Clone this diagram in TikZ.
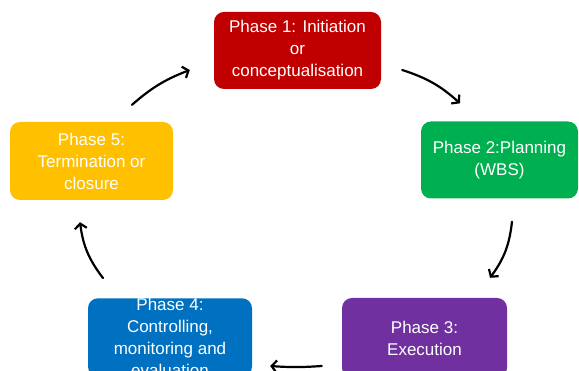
\documentclass[tikz,border=0pt]{standalone}
\usepackage{fontspec}
\setmainfont{Liberation Sans}
\usetikzlibrary{arrows.meta}

\definecolor{phaseone}{HTML}{C00000}
\definecolor{phasetwo}{HTML}{00B050}
\definecolor{phasethree}{HTML}{7030A0}
\definecolor{phasefour}{HTML}{0070C0}
\definecolor{phasefive}{HTML}{FFC000}

\begin{document}
\begin{tikzpicture}[x=1pt,y=1pt,line cap=round,line join=round,
    phase/.style={rounded corners=10pt,text=white,align=center,inner sep=0pt,
        minimum width=164pt,minimum height=77pt,font=\fontsize{17}{22}\selectfont},
    cyc/.style={-{Straight Barb[length=5pt,width=12pt]},line width=2.2pt}]
        \useasboundingbox (0,0) rectangle (579,371);

        % the five phases
        \node[phase,fill=phaseone,minimum width=167pt] (p1) at (297.5,320.5) {Phase 1: Initiation\\or\\conceptualisation};
        \node[phase,fill=phasetwo,minimum width=157pt] (p2) at (499.5,211) {Phase 2:Planning\\(WBS)};
        \node[phase,fill=phasethree,minimum width=165pt,minimum height=80pt] (p3) at (424.5,33) {Phase 3:\\Execution};
        \node[phase,fill=phasefour] (p4) at (170,33.5) {Phase 4:\\Controlling,\\monitoring and\\evaluation};
        \node[phase,fill=phasefive,minimum width=163pt,minimum height=78pt] (p5) at (91.5,210) {Phase 5:\\Termination or\\closure};

        % cycle arrows
        \draw[cyc] ([shift={(21,-19.5)}]p1.east) to[bend left=12] ([shift={(-39.5,18)}]p2.north);
        \draw[cyc] ([shift={(12.5,-23)}]p2.south) to[bend left=15] ([shift={(65.5,20)}]p3.north);
        \draw[cyc] ([shift={(-20,-28)}]p3.west) to[bend left=4] ([shift={(18,-28.5)}]p4.east);
        \draw[cyc] ([shift={(-67,20)}]p4.north) to[bend left=15] ([shift={(-11.5,-22)}]p5.south);
        \draw[cyc] ([shift={(40.5,17)}]p5.north) to[bend left=10] ([shift={(-24,-19.5)}]p1.west);
    \end{tikzpicture}
\end{document}
